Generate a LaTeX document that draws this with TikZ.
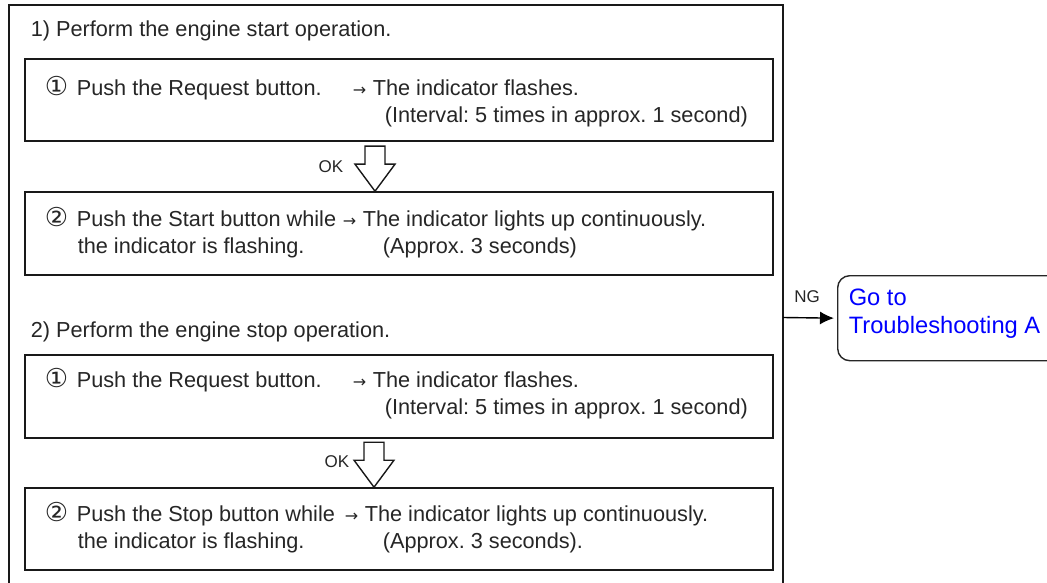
\documentclass[tikz,border=0pt]{standalone}
\usepackage{fontspec}
\setmainfont{Liberation Sans}
\newfontfamily\symfont{DejaVu Sans}
\usetikzlibrary{arrows.meta}
\frenchspacing
\newcommand{\circno}[1]{\makebox[32pt][l]{\symfont\fontsize{26}{26}\selectfont #1}}
\newcommand{\toarr}{\makebox[20pt][l]{\symfont\fontsize{16}{16}\selectfont →}}

\begin{document}
\begin{tikzpicture}[x=1pt, y=-1pt, line width=1.6pt,
    every node/.style={font=\fontsize{21.7}{27}\selectfont, text=black!85},
    stepbox/.style={draw=black!90, minimum width=748pt, minimum height=82pt, inner sep=0pt},
    txt/.style={anchor=base west, inner sep=0pt},
    small/.style={font=\fontsize{17}{17}\selectfont, inner sep=0pt},
    hollow/.style={draw=black!90, fill=white, line width=1.4pt, line join=miter},
    gobox/.style={draw=black!85, rounded corners=12pt, line width=1.4pt, inner sep=0pt},
    gotext/.style={font=\fontsize{23.7}{28}\selectfont, text=blue, align=left, inner sep=0pt}]
        % 1. page and outer frame
        \fill[white] (0,0) rectangle (1047,583);
        \useasboundingbox (0,0) rectangle (1047,583);
        \clip (0,0) rectangle (1047,583);
        \draw[black!90] (9,590) -- (9,5) -- (783,5) -- (783,590);
        \coordinate (ngout) at (783,317.5);

        % 2. engine start
        \node[txt] (head1) at (30,37) {1) Perform the engine start operation.};
        \node[stepbox] (step1) at (399,100) {};
        \node[txt] (s1a) at (44,96) {\circno{①}Push the Request button.};
        \node[txt] (s1b) at (352,96) {\toarr The indicator flashes.};
        \node[txt] (s1c) at (384,123) {(Interval: 5 times in approx. 1 second)};
        \node[stepbox, minimum height=83pt] (step2) at (399,233.5) {};
        \node[txt] (s2a) at (44,226) {\circno{②}Push the Start button while};
        \node[txt] (s2b) at (77,253) {the indicator is flashing.};
        \node[txt] (s2c) at (342,226) {\toarr The indicator lights up continuously.};
        \node[txt] (s2d) at (382,253) {(Approx. 3 seconds)};

        % 3. engine stop
        \node[txt] (head2) at (30,337) {2) Perform the engine stop operation.};
        \node[stepbox, minimum height=83pt] (step3) at (399,396.5) {};
        \node[txt] (s3a) at (44,387) {\circno{①}Push the Request button.};
        \node[txt] (s3b) at (352,387) {\toarr The indicator flashes.};
        \node[txt] (s3c) at (384,414) {(Interval: 5 times in approx. 1 second)};
        \node[stepbox] (step4) at (399,529) {};
        \node[txt] (s4a) at (44,521) {\circno{②}Push the Stop button while};
        \node[txt] (s4b) at (77,548) {the indicator is flashing.};
        \node[txt] (s4c) at (344,521) {\toarr The indicator lights up continuously.};
        \node[txt] (s4d) at (382,548) {(Approx. 3 seconds).};

        % 4. OK arrows
        \coordinate (okx1) at (375,0);
        \coordinate (okx2) at (374,0);
        \foreach \a/\b/\c in {step1/step2/okx1, step3/step4/okx2}
            \draw[hollow] (\c |- \b.north) -- ++(-20,-27) -- ++(10,0) -- ++(0,-18)
                -- ++(20,0) -- ++(0,18) -- ++(10,0) -- cycle;
        \node[small] (ok1) at (331,167) {OK};
        \node[small] (ok2) at (337,462) {OK};

        % 5. NG branch
        \node[gobox, anchor=north west, minimum width=240pt, minimum height=85pt] (goA) at (837,275) {};
        \node[gotext, anchor=north west] (goTxt) at ([xshift=11pt, yshift=-13pt]goA.north west)
            {Go to\\Troubleshooting A};
        \draw[-{Latex[length=14pt, width=13pt]}, line width=1.4pt, shorten >=3pt] (ngout) -- (goA.west);
        \node[small] (ng) at (807,297) {NG};
\end{tikzpicture}
\end{document}
